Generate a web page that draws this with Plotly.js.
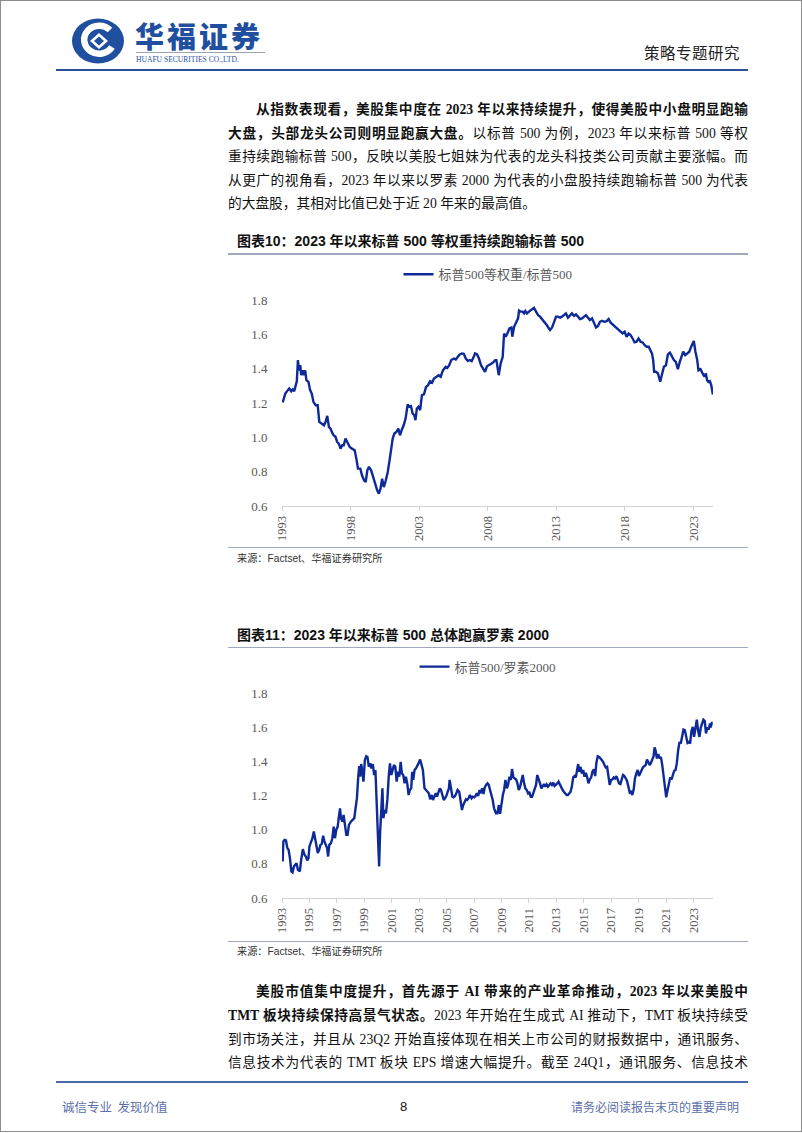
<!DOCTYPE html>
<html>
<head>
<meta charset="utf-8">
<script src="https://cdn.plot.ly/plotly-3.0.1.min.js"></script>
<style>
  html, body { margin:0; padding:0; background:#fff; }
  #page { position:relative; width:802px; height:1133px; overflow:hidden; background:#fff; }
  #border { position:absolute; left:0; top:0; width:802px; height:1132px; box-sizing:border-box; border:1px solid #8c8c8c; }
  .abs { position:absolute; }
  .body { font-family:"Liberation Serif","Noto Sans CJK SC",serif; font-size:13.7px; color:#111; line-height:23.5px; height:23.5px; text-align:justify; text-align-last:justify; }
  .b { font-weight:bold; }
  .ctitle { font-family:"Liberation Sans","Noto Sans CJK SC",sans-serif; font-weight:bold; font-size:14px; color:#111; line-height:20px; white-space:nowrap; }
  .src { font-family:"Liberation Sans","Noto Sans CJK SC",sans-serif; font-size:10.2px; color:#333; line-height:14px; }
  .rule { position:absolute; height:1.5px; background:#9fa8bd; }
</style>
</head>
<body>
<div id="page">
  <div id="border"></div>

  <!-- header -->
  <svg class="abs" style="left:70px;top:17px" width="58" height="48" viewBox="0 0 58 48">
    <ellipse cx="28" cy="24" rx="26" ry="22.5" fill="#1f4f9e"/>
    <path d="M40 13 A15 14 0 1 0 42 30" fill="none" stroke="#fff" stroke-width="6.5"/>
    <path d="M20 24 L29 16 L38 24 L29 32 Z" fill="#fff"/>
    <path d="M24 24 L29 19.5 L34 24 L29 28.5 Z" fill="#1f4f9e"/>
  </svg>
  <div class="abs" style="left:135px;top:15px;font-family:'Noto Sans CJK SC';font-weight:900;font-size:29px;line-height:40px;color:#1f4f9e;letter-spacing:3px;">华福证券</div>
  <div class="abs" style="left:136px;top:52px;width:129px;height:1px;background:#9aa3b5;"></div>
  <div class="abs" style="left:136px;top:53px;font-family:'Liberation Serif';font-size:9px;line-height:12px;color:#1f4f9e;white-space:nowrap;transform-origin:0 0;transform:scaleX(0.84);">HUAFU SECURITIES CO.,LTD.</div>
  <div class="abs" style="left:644px;top:42px;font-family:'Noto Sans CJK SC';font-size:15.5px;line-height:20px;color:#222;letter-spacing:0.5px;">策略专题研究</div>
  <div class="abs" style="left:56px;top:69px;width:692px;height:2px;background:#2c4f9a;"></div>

  <!-- paragraph 1 -->
  <div class="abs body b" style="left:256px;top:98px;width:492px;">从指数表现看，美股集中度在 2023 年以来持续提升，使得美股中小盘明显跑输</div>
  <div class="abs body" style="left:228px;top:121.5px;width:520px;"><span class="b">大盘，头部龙头公司则明显跑赢大盘。</span>以标普 500 为例，2023 年以来标普 500 等权</div>
  <div class="abs body" style="left:228px;top:145px;width:520px;">重持续跑输标普 500，反映以美股七姐妹为代表的龙头科技类公司贡献主要涨幅。而</div>
  <div class="abs body" style="left:228px;top:168.5px;width:520px;">从更广的视角看，2023 年以来以罗素 2000 为代表的小盘股持续跑输标普 500 为代表</div>
  <div class="abs body" style="left:228px;top:192px;width:520px;text-align:left;text-align-last:left;">的大盘股，其相对比值已处于近 20 年来的最高值。</div>

  <!-- chart 10 -->
  <div class="abs ctitle" style="left:237px;top:231px;">图表10：2023 年以来标普 500 等权重持续跑输标普 500</div>
  <div class="rule" style="left:228px;top:253px;width:520px;"></div>
  <div id="chart1" class="abs" style="left:228px;top:258px;width:520px;height:290px;"></div>
  <div class="rule" style="left:228px;top:546.5px;width:520px;"></div>
  <div class="abs src" style="left:237px;top:552px;">来源：Factset、华福证券研究所</div>

  <!-- chart 11 -->
  <div class="abs ctitle" style="left:237px;top:624.5px;">图表11：2023 年以来标普 500 总体跑赢罗素 2000</div>
  <div class="rule" style="left:228px;top:646.5px;width:520px;"></div>
  <div id="chart2" class="abs" style="left:228px;top:650px;width:520px;height:290px;"></div>
  <div class="rule" style="left:228px;top:940.5px;width:520px;"></div>
  <div class="abs src" style="left:237px;top:945px;">来源：Factset、华福证券研究所</div>

  <!-- paragraph 2 -->
  <div class="abs body b" style="left:256px;top:980px;width:492px;">美股市值集中度提升，首先源于 AI 带来的产业革命推动，2023 年以来美股中</div>
  <div class="abs body" style="left:228px;top:1003.8px;width:520px;"><span class="b">TMT 板块持续保持高景气状态。</span>2023 年开始在生成式 AI 推动下，TMT 板块持续受</div>
  <div class="abs body" style="left:228px;top:1027.6px;width:520px;">到市场关注，并且从 23Q2 开始直接体现在相关上市公司的财报数据中，通讯服务、</div>
  <div class="abs body" style="left:228px;top:1051.4px;width:520px;">信息技术为代表的 TMT 板块 EPS 增速大幅提升。截至 24Q1，通讯服务、信息技术</div>

  <!-- footer -->
  <div class="abs" style="left:56px;top:1081px;width:692px;height:1.5px;background:#4a69a6;"></div>
  <div class="abs" style="left:62px;top:1098px;font-family:'Noto Sans CJK SC';font-size:12.5px;line-height:18px;color:#5b6fa8;white-space:pre;">诚信专业  发现价值</div>
  <div class="abs" style="left:400px;top:1098px;font-family:'Liberation Sans';font-size:13px;line-height:18px;color:#111;">8</div>
  <div class="abs" style="left:571px;top:1098px;font-family:'Noto Sans CJK SC';font-size:12px;line-height:18px;color:#5b6fa8;">请务必阅读报告末页的重要声明</div>
</div>

<script>
// ---------- data: chart 10 (S&P500 equal weight / S&P500) ----------
const years1 = [1993.05,1993.12,1993.24,1993.43,1993.53,1993.67,1993.77,1993.89,1994.01,1994.08,1994.16,1994.25,1994.33,1994.4,1994.5,1994.59,1994.69,1994.78,1994.93,1995.05,1995.17,1995.29,1995.46,1995.6,1995.72,1995.89,1996.06,1996.18,1996.3,1996.42,1996.54,1996.64,1996.76,1996.9,1997.02,1997.14,1997.27,1997.39,1997.5,1997.63,1997.77,1997.94,1998.1,1998.3,1998.42,1998.54,1998.71,1998.83,1998.98,1999.1,1999.22,1999.34,1999.5,1999.65,1999.8,1999.94,2000.06,2000.18,2000.3,2000.42,2000.57,2000.71,2000.86,2000.96,2001.07,2001.19,2001.34,2001.48,2001.6,2001.72,2001.87,2002.01,2002.16,2002.28,2002.4,2002.52,2002.64,2002.73,2002.83,2002.95,2003.07,2003.2,2003.35,2003.5,2003.65,2003.8,2003.94,2004.08,2004.28,2004.42,2004.57,2004.73,2004.93,2005.05,2005.19,2005.34,2005.53,2005.67,2005.82,2005.96,2006.11,2006.25,2006.4,2006.54,2006.69,2006.83,2006.98,2007.07,2007.22,2007.36,2007.51,2007.65,2007.8,2007.94,2008.08,2008.28,2008.43,2008.54,2008.63,2008.8,2008.94,2009.09,2009.19,2009.31,2009.43,2009.58,2009.72,2009.79,2009.92,2010.06,2010.21,2010.28,2010.4,2010.55,2010.65,2010.74,2010.86,2011.0,2011.13,2011.27,2011.37,2011.52,2011.67,2011.81,2011.96,2012.16,2012.3,2012.45,2012.54,2012.69,2012.83,2012.98,2013.12,2013.27,2013.41,2013.56,2013.7,2013.85,2014.0,2014.14,2014.29,2014.43,2014.58,2014.72,2014.87,2015.01,2015.16,2015.31,2015.45,2015.6,2015.74,2015.89,2016.03,2016.18,2016.33,2016.52,2016.67,2016.81,2016.96,2017.11,2017.25,2017.4,2017.54,2017.69,2017.83,2017.98,2018.12,2018.27,2018.41,2018.56,2018.7,2018.85,2018.99,2019.14,2019.29,2019.44,2019.58,2019.73,2019.87,2019.97,2020.06,2020.13,2020.26,2020.41,2020.57,2020.69,2020.84,2020.99,2021.13,2021.28,2021.42,2021.57,2021.71,2021.86,2022.0,2022.1,2022.25,2022.39,2022.54,2022.69,2022.83,2023.02,2023.14,2023.27,2023.36,2023.51,2023.66,2023.8,2023.9,2023.99,2024.09,2024.19,2024.29,2024.41];
const ratio1 = [1.203,1.226,1.255,1.275,1.285,1.269,1.279,1.269,1.314,1.327,1.45,1.39,1.42,1.362,1.39,1.362,1.39,1.333,1.323,1.275,1.255,1.207,1.187,1.187,1.09,1.077,1.07,1.09,1.125,1.06,1.05,1.03,1.012,1.003,0.973,0.963,0.934,0.954,0.954,0.993,0.973,0.944,0.934,0.925,0.876,0.818,0.818,0.779,0.75,0.74,0.808,0.828,0.808,0.769,0.72,0.691,0.672,0.701,0.759,0.71,0.75,0.798,0.876,0.925,0.993,1.022,1.032,1.051,1.012,1.041,1.07,1.109,1.191,1.178,1.182,1.139,1.129,1.1,1.168,1.178,1.158,1.246,1.25,1.294,1.304,1.327,1.319,1.343,1.353,1.362,1.353,1.39,1.41,1.404,1.42,1.45,1.459,1.454,1.469,1.483,1.489,1.487,1.459,1.446,1.45,1.444,1.469,1.489,1.483,1.459,1.42,1.4,1.381,1.414,1.42,1.43,1.44,1.45,1.45,1.362,1.43,1.469,1.605,1.586,1.605,1.635,1.64,1.586,1.644,1.673,1.693,1.738,1.732,1.732,1.722,1.736,1.722,1.732,1.742,1.751,1.755,1.732,1.712,1.703,1.689,1.673,1.654,1.635,1.625,1.64,1.673,1.703,1.703,1.697,1.703,1.712,1.722,1.697,1.708,1.722,1.708,1.716,1.703,1.689,1.693,1.703,1.712,1.697,1.683,1.693,1.664,1.64,1.648,1.673,1.679,1.673,1.677,1.689,1.668,1.658,1.644,1.635,1.625,1.615,1.605,1.615,1.586,1.605,1.596,1.576,1.553,1.557,1.576,1.557,1.553,1.537,1.528,1.528,1.508,1.489,1.45,1.382,1.382,1.372,1.324,1.362,1.411,1.42,1.483,1.493,1.469,1.45,1.44,1.397,1.44,1.46,1.499,1.479,1.489,1.499,1.528,1.561,1.499,1.45,1.39,1.397,1.372,1.353,1.372,1.333,1.323,1.327,1.304,1.25];
const name1 = "标普500等权重/标普500";
const ticks1 = [1993,1998,2003,2008,2013,2018,2023];
const tickText1 = ["1993","1998","2003","2008","2013","2018","2023"];

// ---------- data: chart 11 (S&P500 / Russell 2000) ----------
const years2 = [1993.05,1993.1,1993.19,1993.29,1993.39,1993.48,1993.58,1993.68,1993.77,1993.87,1993.97,1994.06,1994.16,1994.3,1994.4,1994.52,1994.64,1994.74,1994.84,1994.93,1995.0,1995.13,1995.22,1995.32,1995.42,1995.54,1995.61,1995.71,1995.8,1995.9,1996.0,1996.09,1996.19,1996.29,1996.36,1996.45,1996.57,1996.67,1996.77,1996.86,1996.96,1997.06,1997.15,1997.23,1997.3,1997.4,1997.49,1997.59,1997.69,1997.78,1997.88,1998.02,1998.17,1998.27,1998.36,1998.46,1998.56,1998.63,1998.7,1998.77,1998.85,1998.94,1999.04,1999.14,1999.23,1999.33,1999.43,1999.52,1999.62,1999.72,1999.81,1999.91,1999.98,2000.08,2000.15,2000.25,2000.32,2000.39,2000.49,2000.58,2000.68,2000.78,2000.87,2000.97,2001.07,2001.16,2001.26,2001.36,2001.45,2001.55,2001.65,2001.74,2001.84,2001.94,2002.03,2002.13,2002.23,2002.32,2002.42,2002.49,2002.57,2002.66,2002.76,2002.86,2002.95,2003.07,2003.17,2003.27,2003.39,2003.48,2003.58,2003.7,2003.8,2003.92,2004.01,2004.11,2004.21,2004.3,2004.4,2004.5,2004.59,2004.69,2004.79,2004.88,2004.98,2005.08,2005.17,2005.22,2005.32,2005.42,2005.51,2005.61,2005.71,2005.8,2005.92,2006.02,2006.12,2006.21,2006.31,2006.41,2006.5,2006.6,2006.7,2006.82,2006.91,2007.01,2007.11,2007.2,2007.3,2007.4,2007.49,2007.59,2007.69,2007.78,2007.88,2007.98,2008.07,2008.17,2008.27,2008.36,2008.46,2008.6,2008.71,2008.81,2008.9,2009.0,2009.1,2009.19,2009.29,2009.39,2009.48,2009.58,2009.68,2009.77,2009.87,2009.97,2010.07,2010.16,2010.26,2010.36,2010.45,2010.55,2010.65,2010.74,2010.84,2010.94,2011.03,2011.13,2011.23,2011.32,2011.42,2011.52,2011.61,2011.71,2011.81,2011.91,2012.0,2012.1,2012.2,2012.29,2012.39,2012.49,2012.58,2012.68,2012.78,2012.87,2012.97,2013.07,2013.16,2013.26,2013.36,2013.46,2013.55,2013.65,2013.75,2013.84,2013.94,2014.04,2014.13,2014.23,2014.33,2014.42,2014.52,2014.59,2014.67,2014.76,2014.86,2014.96,2015.05,2015.15,2015.25,2015.34,2015.44,2015.54,2015.63,2015.73,2015.83,2015.92,2016.02,2016.12,2016.22,2016.31,2016.41,2016.51,2016.6,2016.7,2016.8,2016.89,2016.99,2017.09,2017.18,2017.28,2017.38,2017.47,2017.57,2017.67,2017.77,2017.86,2017.96,2018.06,2018.15,2018.25,2018.35,2018.44,2018.54,2018.64,2018.73,2018.83,2018.93,2019.02,2019.12,2019.22,2019.31,2019.41,2019.51,2019.61,2019.7,2019.8,2019.9,2019.99,2020.09,2020.16,2020.23,2020.33,2020.43,2020.53,2020.62,2020.72,2020.82,2020.91,2021.01,2021.11,2021.2,2021.3,2021.4,2021.49,2021.59,2021.69,2021.78,2021.88,2021.98,2022.07,2022.17,2022.27,2022.37,2022.46,2022.56,2022.66,2022.75,2022.85,2022.95,2023.04,2023.14,2023.24,2023.33,2023.43,2023.53,2023.62,2023.72,2023.82,2023.91,2024.01,2024.11,2024.2,2024.25,2024.33,2024.4];
const ratio2 = [0.814,0.931,0.94,0.937,0.892,0.882,0.833,0.756,0.75,0.785,0.795,0.804,0.765,0.756,0.824,0.886,0.853,0.843,0.82,0.833,0.902,0.931,0.95,0.989,0.94,0.902,0.863,0.882,0.911,0.917,0.964,0.931,0.911,0.892,0.843,0.911,0.921,0.95,1.018,0.95,0.999,1.018,1.077,1.125,1.067,1.047,1.086,1.018,0.97,0.97,1.028,1.047,1.057,1.067,1.125,1.183,1.31,1.372,1.31,1.384,1.349,1.281,1.407,1.43,1.426,1.368,1.388,1.358,1.384,1.32,1.349,1.154,0.94,0.785,0.979,1.115,1.242,1.067,1.115,1.096,1.174,1.31,1.388,1.32,1.358,1.378,1.368,1.281,1.339,1.31,1.397,1.329,1.32,1.271,1.31,1.271,1.203,1.232,1.242,1.339,1.291,1.349,1.358,1.372,1.388,1.411,1.378,1.349,1.242,1.232,1.222,1.213,1.178,1.203,1.174,1.193,1.213,1.193,1.222,1.242,1.232,1.203,1.174,1.184,1.197,1.222,1.242,1.291,1.252,1.193,1.189,1.197,1.213,1.232,1.222,1.154,1.115,1.144,1.164,1.178,1.174,1.184,1.203,1.184,1.193,1.189,1.197,1.213,1.197,1.232,1.213,1.242,1.209,1.248,1.262,1.271,1.262,1.232,1.213,1.174,1.125,1.096,1.096,1.144,1.092,1.154,1.203,1.232,1.291,1.242,1.262,1.31,1.291,1.355,1.306,1.3,1.294,1.271,1.232,1.252,1.287,1.32,1.271,1.242,1.232,1.213,1.222,1.193,1.193,1.213,1.232,1.262,1.32,1.287,1.271,1.242,1.256,1.267,1.252,1.265,1.252,1.262,1.271,1.262,1.275,1.256,1.262,1.271,1.281,1.262,1.242,1.232,1.222,1.213,1.203,1.203,1.213,1.222,1.252,1.306,1.314,1.306,1.353,1.384,1.339,1.368,1.329,1.349,1.31,1.333,1.306,1.271,1.294,1.306,1.339,1.353,1.314,1.392,1.43,1.426,1.417,1.407,1.397,1.378,1.364,1.368,1.3,1.262,1.291,1.294,1.306,1.3,1.314,1.294,1.271,1.267,1.294,1.32,1.314,1.3,1.287,1.252,1.217,1.222,1.203,1.236,1.3,1.329,1.349,1.314,1.333,1.349,1.364,1.372,1.378,1.411,1.397,1.378,1.392,1.407,1.43,1.481,1.465,1.417,1.442,1.417,1.426,1.378,1.3,1.232,1.189,1.232,1.281,1.306,1.294,1.32,1.345,1.349,1.388,1.465,1.514,1.504,1.543,1.586,1.582,1.543,1.508,1.514,1.504,1.578,1.602,1.543,1.602,1.644,1.582,1.543,1.598,1.622,1.644,1.636,1.563,1.598,1.586,1.622,1.598,1.625,1.625];
const name2 = "标普500/罗素2000";
const ticks2 = [1993,1995,1997,1999,2001,2003,2005,2007,2009,2011,2013,2015,2017,2019,2021,2023];
const tickText2 = ticks2.map(String);
const yTicks = [0.6,0.8,1.0,1.2,1.4,1.6,1.8];
const yTickText = ["0.6","0.8","1.0","1.2","1.4","1.6","1.8"];

// ---------- drawing ----------
const LINE = "#0d2a98";
const SERIF = "Liberation Serif, Noto Sans CJK SC, serif";
const GRAY = "#595959";

function makeLayout(tv, tt, legendY, tpad, bpad) {
  return {
    width: 520, height: 290,
    margin: {l: 54.3, r: 34.6, t: tpad, b: bpad, pad: 0},
    paper_bgcolor: "rgba(0,0,0,0)", plot_bgcolor: "rgba(0,0,0,0)",
    showlegend: true,
    legend: {orientation: "h", xref: "container", yref: "container", x: 0.5, xanchor: "center",
             y: legendY, yanchor: "middle", font: {family: SERIF, size: 13, color: GRAY},
             bgcolor: "rgba(0,0,0,0)"},
    xaxis: {type: "linear", range: [1993, 2024.42], tickmode: "array", tickvals: tv, ticktext: tt,
            tickangle: -90, ticks: "outside", ticklen: 4, tickcolor: "#d4d4d4", tickwidth: 1,
            showline: true, linecolor: "#d4d4d4", linewidth: 1, showgrid: false, zeroline: false,
            tickfont: {family: SERIF, size: 12.5, color: GRAY}, automargin: false, fixedrange: true},
    yaxis: {range: [0.6, 1.8], tickmode: "array", tickvals: yTicks, ticktext: yTickText,
            ticks: "outside", ticklen: 11, tickcolor: "rgba(0,0,0,0)", showline: false,
            showgrid: false, zeroline: false, tickfont: {family: SERIF, size: 13, color: GRAY},
            automargin: false, fixedrange: true}
  };
}

Plotly.newPlot("chart1", [{x: years1, y: ratio1, type: "scatter", mode: "lines", name: name1,
  line: {color: LINE, width: 2.4}}],
  makeLayout(ticks1, tickText1, 1 - 16.3/290, 42, 42.3), {staticPlot: true, displayModeBar: false});

Plotly.newPlot("chart2", [{x: years2, y: ratio2, type: "scatter", mode: "lines", name: name2,
  line: {color: LINE, width: 2.4}}],
  makeLayout(ticks2, tickText2, 1 - 16.7/290, 42.7, 41.7), {staticPlot: true, displayModeBar: false});
</script>
</body>
</html>
